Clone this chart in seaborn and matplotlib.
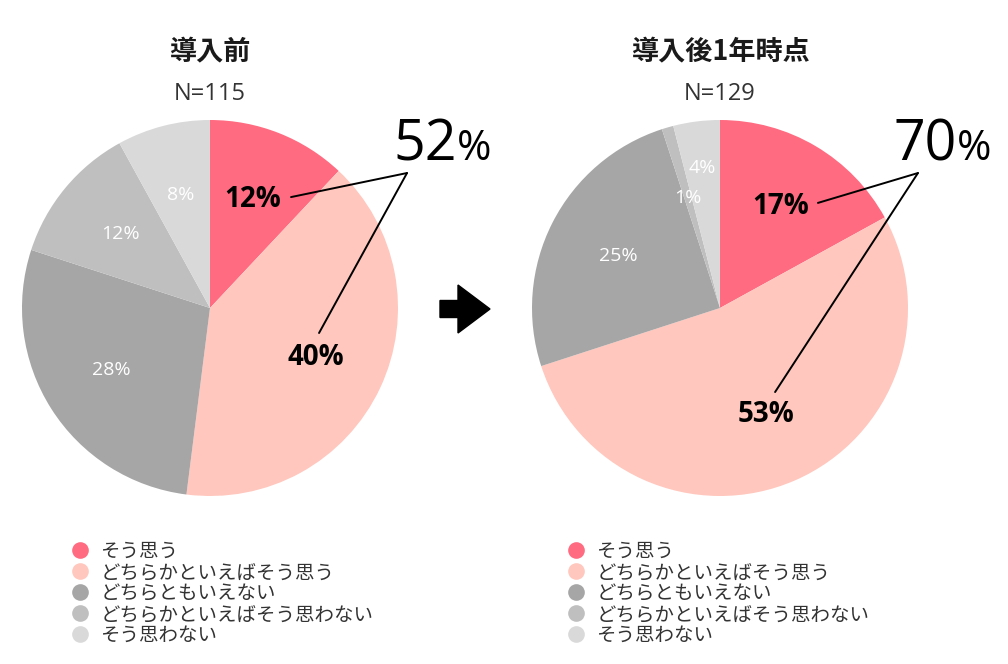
import numpy as np
import seaborn as sns
import matplotlib.pyplot as plt
from matplotlib.lines import Line2D
from matplotlib.patches import FancyArrow

# data
categories = ['そう思う', 'どちらかといえばそう思う', 'どちらともいえない',
              'どちらかといえばそう思わない', 'そう思わない']
before = [12, 40, 28, 12, 8]
after = [17, 53, 25, 1, 4]
titles = ['導入前', '導入後1年時点']
counts = ['N=115', 'N=129']
positive = [52, 70]

colors = ['#ff6b81', '#ffc7bd', '#a6a6a6', '#bfbfbf', '#d9d9d9']

sns.set_theme(style='white')
plt.rcParams['font.family'] = ['Noto Sans CJK JP', 'DejaVu Sans']
NUM = ['Open Sans', 'DejaVu Sans']

fig = plt.figure(figsize=(10.08, 6.64), dpi=100)
W, H = 1008, 664
R = 188  # pie radius in px


def pie_axes(cx, cy):
    return fig.add_axes([(cx - R) / W, (H - cy - R) / H, 2 * R / W, 2 * R / H])


def draw_pie(ax, values, title, count, total, big_x, lines, label_r):
    wedges, _ = ax.pie(values, colors=colors, startangle=90, counterclock=False,
                       radius=1, wedgeprops=dict(linewidth=0))
    ax.set_xlim(-1, 1)
    ax.set_ylim(-1, 1)
    ax.set_aspect('equal')
    ax.axis('off')

    for i, (w, v) in enumerate(zip(wedges, values)):
        mid = np.deg2rad((w.theta1 + w.theta2) / 2)
        r = label_r[i]
        x, y = r * np.cos(mid), r * np.sin(mid)
        if i < 2:
            ax.text(x, y, f'{v}%', ha='center', va='center', fontsize=20,
                    fontweight='bold', color='black', family=NUM)
        else:
            ax.text(x, y, f'{v}%', ha='center', va='center', fontsize=14,
                    color='white', family=NUM)

    ax.text(0, 1.322, title, ha='center', va='baseline', fontsize=19.5,
            fontweight='bold', color='#1a1a1a', clip_on=False)
    ax.text(0, 1.106, count, ha='center', va='baseline', fontsize=17,
            color='#333333', family=NUM, clip_on=False)

    # combined positive share
    ax.text(big_x, 0.787, str(total), ha='right', va='baseline', fontsize=40,
            color='black', family=NUM, clip_on=False)
    ax.text(big_x, 0.787, '%', ha='left', va='baseline', fontsize=30,
            color='black', family=NUM, clip_on=False)
    apex, ends = lines
    for e in ends:
        ax.plot([apex[0], e[0]], [apex[1], e[1]], color='black', lw=1.4,
                clip_on=False)


ax1 = pie_axes(210, 308)
draw_pie(ax1, before, titles[0], counts[0], positive[0], 1.314,
         ((1.048, 0.718), [(0.431, 0.590), (0.580, -0.133)]),
         [0.62, 0.62, 0.62, 0.62, 0.62])

ax2 = pie_axes(720, 308)
draw_pie(ax2, after, titles[1], counts[1], positive[1], 1.261,
         ((1.053, 0.718), [(0.521, 0.559), (0.293, -0.447)]),
         [0.63, 0.62, 0.61, 0.61, 0.75])

# arrow between the pies
fig.add_artist(FancyArrow(4.40, 3.55, 0.50, 0, width=0.17, head_width=0.48,
                          head_length=0.32, length_includes_head=True,
                          color='black', transform=fig.dpi_scale_trans))

handles = [Line2D([], [], marker='o', linestyle='', markersize=12,
                  markerfacecolor=c, markeredgewidth=0) for c in colors]
for lx in (70, 566):
    leg = fig.legend(handles, categories, loc='upper left',
                     bbox_to_anchor=(lx / W, 1 - 541 / H), frameon=False,
                     fontsize=14, handlelength=1.0, handletextpad=0.55,
                     labelspacing=0.0, borderpad=0, borderaxespad=0)
    for t in leg.get_texts():
        t.set_color('#333333')

fig.savefig('out.png', dpi=100)
